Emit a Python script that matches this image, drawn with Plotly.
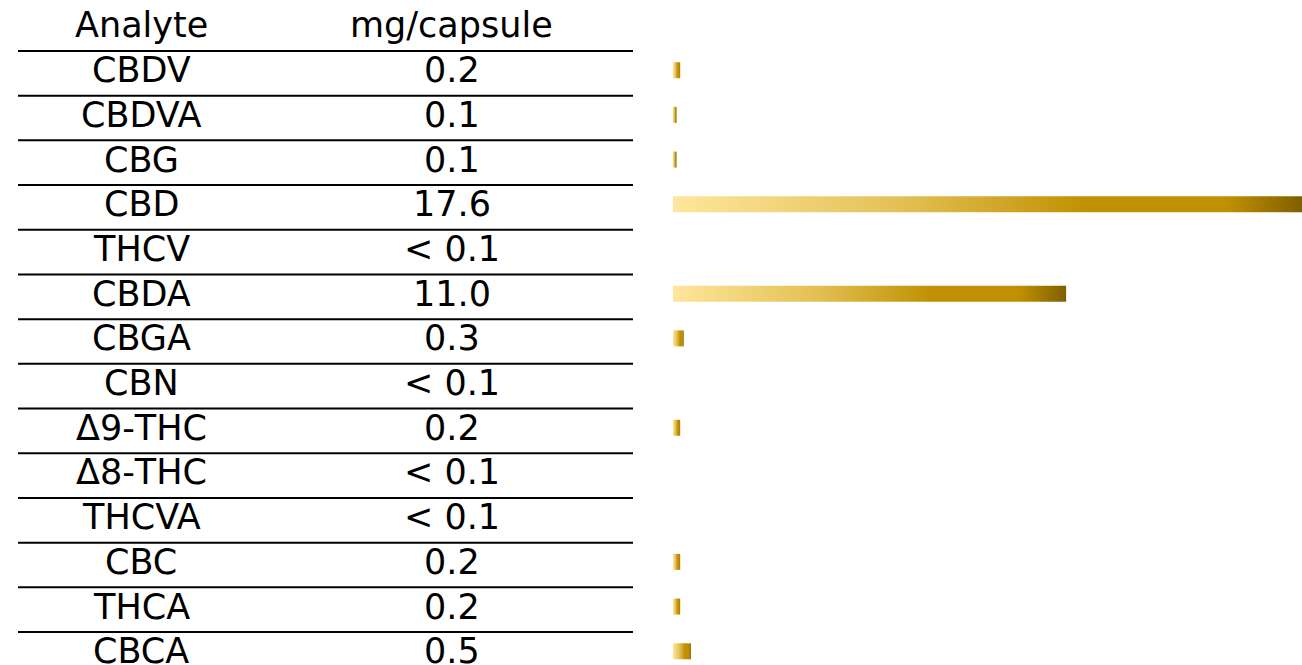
import plotly.graph_objects as go

analytes = ["CBDV", "CBDVA", "CBG", "CBD", "THCV", "CBDA", "CBGA", "CBN",
            "Δ9-THC", "Δ8-THC", "THCVA", "CBC", "THCA", "CBCA"]
labels = ["0.2", "0.1", "0.1", "17.6", "< 0.1", "11.0", "0.3", "< 0.1",
          "0.2", "< 0.1", "< 0.1", "0.2", "0.2", "0.5"]
values = [0.2, 0.1, 0.1, 17.6, None, 11.0, 0.3, None,
          0.2, None, None, 0.2, 0.2, 0.5]
headers = ["Analyte", "mg/capsule"]

FONT = "DejaVu Sans"
FS = 35
gold_scale = [[0.0, "#FEE69C"], [0.35, "#E4C259"], [0.66, "#C09000"],
              [0.88, "#C09000"], [1.0, "#7F6000"]]

fig = go.Figure()

half = 0.179
off = -0.07
for i, v in enumerate(values):
    if v is None:
        continue
    y0, y1 = i + off - half, i + off + half
    fig.add_trace(go.Scatter(
        x=[0, v, v, 0, 0], y=[y0, y0, y1, y1, y0],
        mode="lines", fill="toself", line=dict(width=0, color="rgba(0,0,0,0)"),
        fillgradient=dict(type="horizontal", colorscale=gold_scale),
        hoverinfo="skip", showlegend=False))

col_x = [141 / 1302, 452 / 1302]
toff = -0.07
ann = []
for j, h in enumerate(headers):
    ann.append(dict(x=col_x[j], y=-1 + toff, xref="paper", yref="y", text=h,
                    showarrow=False, xanchor="center", yanchor="middle",
                    font=dict(family=FONT, size=FS, color="black")))
for i, (a, l) in enumerate(zip(analytes, labels)):
    ann.append(dict(x=col_x[0], y=i + toff, xref="paper", yref="y", text=a,
                    showarrow=False, xanchor="center", yanchor="middle",
                    font=dict(family=FONT, size=FS, color="black")))
    ann.append(dict(x=col_x[1], y=i + toff, xref="paper", yref="y", text=l,
                    showarrow=False, xanchor="center", yanchor="middle",
                    font=dict(family=FONT, size=FS, color="black")))

shapes = []
for i in range(len(analytes)):
    shapes.append(dict(type="line", xref="paper", yref="y",
                       x0=18 / 1302, x1=633 / 1302, y0=i - 0.5, y1=i - 0.5,
                       line=dict(color="black", width=2)))

fig.update_layout(
    width=1302, height=665,
    margin=dict(l=0, r=0, t=0, b=0),
    paper_bgcolor="white", plot_bgcolor="white",
    xaxis=dict(domain=[673 / 1302, 1], range=[0, 17.6], visible=False),
    yaxis=dict(range=[13.237, -1.64], visible=False),
    annotations=ann, shapes=shapes,
)
fig.write_html("out.html", config={"displayModeBar": False},
               post_script="document.body.style.margin='0';document.body.style.overflow='hidden';")
